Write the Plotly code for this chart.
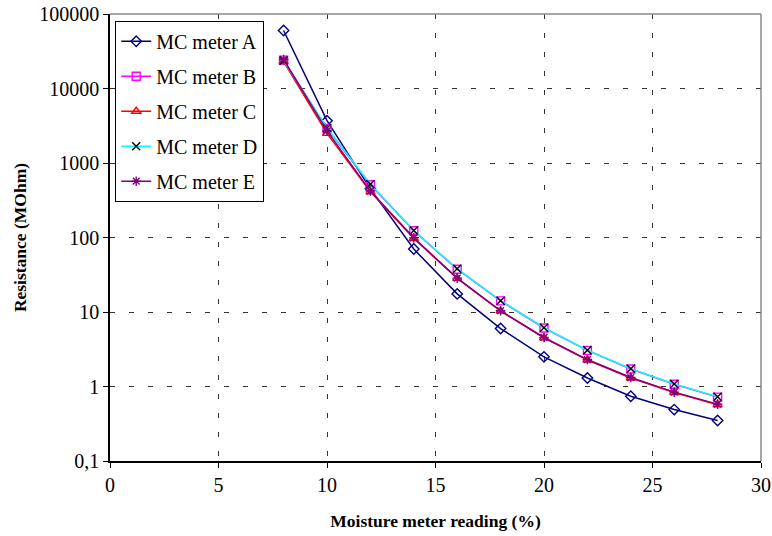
import plotly.graph_objects as go

x_vals = [8, 10, 12, 14, 16, 18, 20, 22, 24, 26, 28]

meter_a = [60000, 3700, 450, 70, 17.5, 6.0, 2.5, 1.3, 0.74, 0.49, 0.35]
meter_b = [24000, 2900, 510, 123, 37.5, 14.1, 6.1, 3.05, 1.72, 1.07, 0.72]
meter_c = [23000, 2500, 410, 97, 28.3, 10.3, 4.5, 2.27, 1.3, 0.83, 0.57]
meter_d = [23500, 2950, 520, 124, 38, 14.2, 6.15, 3.07, 1.73, 1.08, 0.73]
meter_e = [24500, 2700, 420, 99, 28.5, 10.4, 4.55, 2.3, 1.32, 0.84, 0.58]

names = ["MC meter A", "MC meter B", "MC meter C", "MC meter D", "MC meter E"]
series = [meter_a, meter_b, meter_c, meter_d, meter_e]
line_colors = ["#000080", "#FF00FF", "#FF0000", "#00FFFF", "#800080"]
marker_colors = ["#000080", "#FF00FF", "#FF0000", "#000000", "#800080"]
symbols = ["diamond-open", "square-open", "triangle-up-open", "x-thin-open", "asterisk-open"]

y_tickvals = [0.1, 1, 10, 100, 1000, 10000, 100000]
y_ticktext = ["0,1", "1", "10", "100", "1000", "10000", "100000"]
x_tickvals = [0, 5, 10, 15, 20, 25, 30]

FONT = "Liberation Serif"

fig = go.Figure()
for i, (nm, ys) in enumerate(zip(names, series)):
    fig.add_trace(go.Scatter(
        x=x_vals, y=ys, name=nm, mode="lines+markers",
        legendgroup=f"g{i}",
        line=dict(color=line_colors[i], width=1.5),
        marker=dict(symbol=symbols[i], size=8, color=marker_colors[i],
                    line=dict(color=marker_colors[i], width=1.4)),
    ))

fig.update_layout(
    width=772, height=536,
    margin=dict(l=110, r=11, t=14, b=75, autoexpand=False),
    paper_bgcolor="white", plot_bgcolor="white",
    font=dict(family=FONT, size=20, color="black"),
    showlegend=True,
    legend=dict(
        x=0.008, y=0.985, xanchor="left", yanchor="top",
        bgcolor="white", bordercolor="black", borderwidth=1,
        font=dict(family=FONT, size=20, color="black"),
        tracegroupgap=6, traceorder="grouped",
        itemwidth=30,
    ),
    xaxis=dict(
        range=[0, 30], tickvals=x_tickvals, ticks="outside", ticklen=5,
        tickcolor="black", showline=True, linecolor="black", linewidth=1.5,
        showgrid=True, gridcolor="#333333", griddash="5px,14px", gridwidth=1,
        zeroline=False, automargin=False,
        title=dict(text="<b>Moisture meter reading (%)</b>", font=dict(family=FONT, size=17.5), standoff=20),
        tickfont=dict(family=FONT, size=20),
    ),
    yaxis=dict(
        type="log", range=[-1, 5], tickvals=y_tickvals, ticktext=y_ticktext,
        ticks="outside", ticklen=5, tickcolor="black",
        showline=True, linecolor="black", linewidth=1.5,
        showgrid=True, gridcolor="#333333", griddash="5px,14px", gridwidth=1,
        zeroline=False, automargin=False,
        title=dict(text="<b>Resistance (MOhm)</b>", font=dict(family=FONT, size=17.5), standoff=8),
        tickfont=dict(family=FONT, size=20),
    ),
)

fig.add_shape(type="line", xref="paper", yref="paper", x0=0, x1=1, y0=1, y1=1,
              line=dict(color="#888888", width=1.5))
fig.add_shape(type="line", xref="paper", yref="paper", x0=1, x1=1, y0=0, y1=1,
              line=dict(color="#888888", width=1.5))

fig.write_html("out.html")
